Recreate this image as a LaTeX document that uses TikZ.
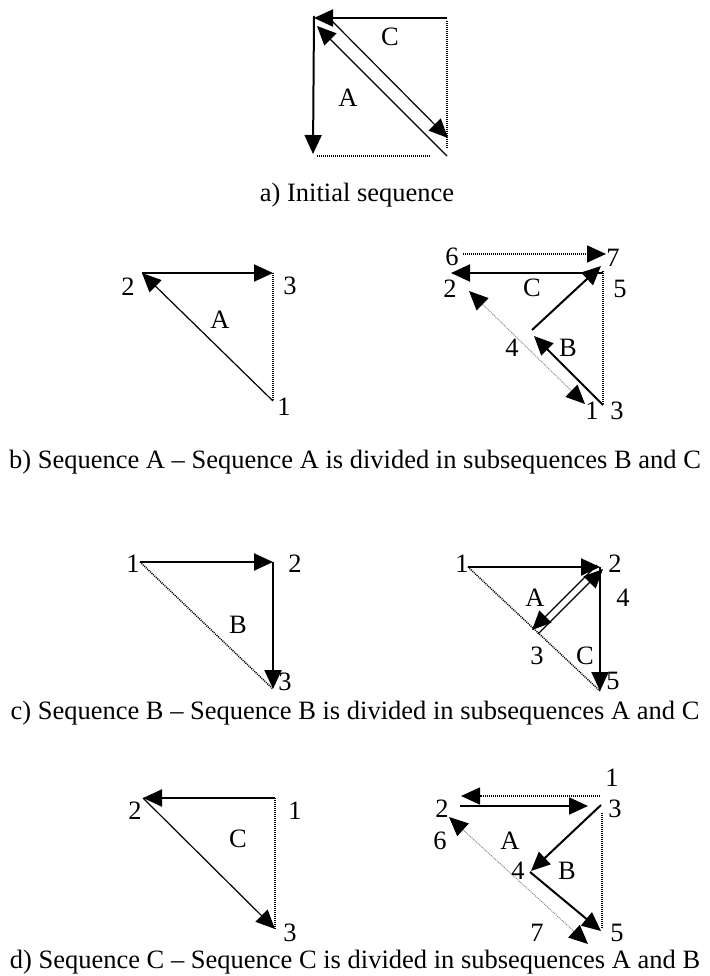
\documentclass[tikz,border=0pt]{standalone}
\usepackage{fontspec}
\setmainfont{Liberation Serif}
\usetikzlibrary{arrows.meta}

\begin{document}
\begin{tikzpicture}[x=1pt, y=-1pt, every node/.style={font=\fontsize{26.5}{30}\selectfont, inner sep=0pt},
  mv/.style={line width=2pt, -{Triangle[length=19pt,width=17pt]}},
  thinmv/.style={line width=1.2pt, -{Triangle[length=19pt,width=17pt]}},
  dots/.style={line width=1.5pt, dash pattern=on 1pt off 1pt},
  ghost/.style={line width=0.9pt, gray, dash pattern=on 1pt off 1pt, {Triangle[length=19pt,width=17pt,color=black]}-{Triangle[length=19pt,width=17pt,color=black]}}]
\useasboundingbox (0,0) rectangle (709,976);

% a) initial sequence
\coordinate (aTL) at (314,18);
\coordinate (aTR) at (447,18);
\coordinate (aBL) at (313,154);
\coordinate (aR1) at (447,21);
\coordinate (aR2) at (447,149);
\coordinate (aB1) at (317,156);
\coordinate (aB2) at (430,156);
\coordinate (aD1) at (447,156);
\coordinate (aD2) at (317,26);
\coordinate (aD3) at (331,20);
\coordinate (aD4) at (448,138);
\draw[mv] (aTR)--(aTL);
\draw[mv] ([yshift=2]aTL)--(aBL);
\draw[thinmv] (aD1)--(aD2);
\draw[thinmv] (aD3)--(aD4);
\draw[dots] (aR1)--(aR2);
\draw[dots] (aB1)--(aB2);
\node (aC) at (390,37) {C};
\node (aA) at (348,98) {A};
\node (capa) at (357,195) {a) Initial sequence};

% b) sequence A
\coordinate (b2) at (142,273);
\coordinate (b3) at (273,273);
\coordinate (b1) at (273,401);
\draw[mv] (b2)--(b3);
\draw[thinmv] (b1)--(b2);
\draw[dots] (b3)--(b1);
\node (lb2) at (128,287) {2};
\node (lb3) at (290,286) {3};
\node (lb1) at (284,407) {1};
\node (lbA) at (220,320) {A};

\coordinate (r6) at (463,254);
\coordinate (r7) at (606,254);
\coordinate (r5) at (603,273);
\coordinate (r2) at (451,273);
\coordinate (r4) at (532,330);
\coordinate (r7b) at (601,266);
\coordinate (r3) at (603,405);
\coordinate (r4b) at (534,336);
\coordinate (rg1) at (469,291);
\coordinate (rg2) at (585,404);
\draw[dots, -{Triangle[length=19pt,width=17pt]}] (r6)--(r7);
\draw[mv] (r5)--(r2);
\draw[mv] (r4)--(r7b);
\draw[mv] (r3)--(r4b);
\draw[dots] ([yshift=2]r5)--(r3);
\draw[ghost] (rg1)--(rg2);
\node (lr6) at (452,257) {6};
\node (lr7) at (613,258) {7};
\node (lr2) at (450,289) {2};
\node (lrC) at (532,288) {C};
\node (lr5) at (620,289) {5};
\node (lr4) at (512,348) {4};
\node (lrB) at (568,348) {B};
\node (lr1) at (592,411) {1};
\node (lr3) at (617,411) {3};
\node (capb) at (355,462) {b) Sequence A -- Sequence A is divided in subsequences B and C};

% c) sequence B
\coordinate (c1) at (140,562);
\coordinate (c2) at (273,562);
\coordinate (c3) at (273,689);
\draw[mv] (c1)--(c2);
\draw[mv] (c2)--(c3);
\draw[dots] (c1)--(c3);
\node (lc1) at (133,564) {1};
\node (lc2) at (295,564) {2};
\node (lc3) at (285,682) {3};
\node (lcB) at (238,625) {B};

\coordinate (s1) at (468,567);
\coordinate (s2) at (600,567);
\coordinate (s5) at (600,691);
\coordinate (s3) at (535,632);
\draw[mv] (s1)--(s2);
\draw[mv] (s2)--(s5);
\draw[dots] (s1)--(s5);
\draw[thinmv] ([shift={(-3,-2)}]s2)--([shift={(-3,-2)}]s3);
\draw[thinmv] ([shift={(3,2)}]s3)--([shift={(3,2)}]s2);
\node (ls1) at (462,564) {1};
\node (ls2) at (615,564) {2};
\node (ls4) at (623,598) {4};
\node (lsA) at (535,598) {A};
\node (ls3) at (537,656) {3};
\node (lsC) at (585,656) {C};
\node (ls5) at (613,681) {5};
\node (capc) at (355,713) {c) Sequence B -- Sequence B is divided in subsequences A and C};

% d) sequence C
\coordinate (e2) at (143,798);
\coordinate (e1) at (275,798);
\coordinate (e3) at (275,929);
\draw[mv] (e1)--(e2);
\draw[thinmv] (e2)--(e3);
\draw[dots] (e1)--(e3);
\node (le2) at (135,811) {2};
\node (le1) at (295,811) {1};
\node (leC) at (238,839) {C};
\node (le3) at (290,933) {3};

\coordinate (t1) at (600,796);
\coordinate (t6) at (461,796);
\coordinate (t2) at (460,806);
\coordinate (t3) at (588,806);
\coordinate (t3b) at (601,805);
\coordinate (t4) at (531,871);
\coordinate (t4b) at (530,872);
\coordinate (t5) at (601,931);
\coordinate (tg1) at (449,817);
\coordinate (tg2) at (588,944);
\coordinate (tv1) at (602,813);
\coordinate (tv2) at (602,928);
\draw[dots, -{Triangle[length=19pt,width=17pt]}] (t1)--(t6);
\draw[mv] (t2)--(t3);
\draw[mv] (t3b)--(t4);
\draw[mv] (t4b)--(t5);
\draw[ghost] (tg1)--(tg2);
\draw[dots] (tv1)--(tv2);
\node (lt1) at (612,778) {1};
\node (lt3) at (615,809) {3};
\node (lt2) at (442,809) {2};
\node (lt6) at (440,841) {6};
\node (ltA) at (510,841) {A};
\node (lt4) at (518,871) {4};
\node (ltB) at (567,871) {B};
\node (lt7) at (537,933) {7};
\node (lt5) at (617,933) {5};
\node (capd) at (355,962) {d) Sequence C -- Sequence C is divided in subsequences A and B};
\end{tikzpicture}
\end{document}
